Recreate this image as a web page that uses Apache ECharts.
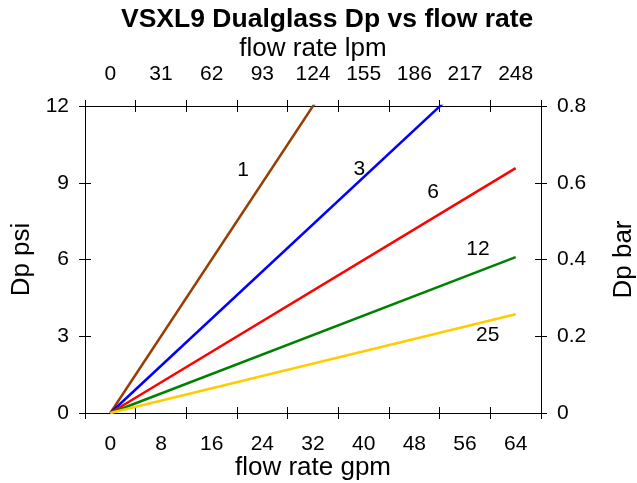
<!DOCTYPE html>
<html>
<head>
<meta charset="utf-8">
<script src="https://cdn.jsdelivr.net/npm/echarts@6/dist/echarts.min.js"></script>
<style>html,body{margin:0;padding:0;background:#fff;}#c{width:637px;height:483px;}</style>
</head>
<body>
<div id="c"></div>
<script>
const flowGpm = [0, 64];
const dp1 = [0, 24.0];
const dp3 = [0, 14.75];
const dp6 = [0, 9.57];
const dp12 = [0, 6.09];
const dp25 = [0, 3.86];
const seriesNames = ['1', '3', '6', '12', '25'];
const seriesColors = ['#993d00', '#0000ff', '#ff0000', '#008000', '#ffcc00'];
const labelX = [20.95, 39.3, 50.96, 58.06, 59.6];
const labelY = [9.5, 9.54, 8.64, 6.41, 3.05];
const gpmTickValues = [-4, 4, 12, 20, 28, 36, 44, 52, 60, 68];
const gpmLabelValues = [0, 8, 16, 24, 32, 40, 48, 56, 64];
const lpmTickValues = [-15.5, 15.5, 46.5, 77.5, 108.5, 139.5, 170.5, 201.5, 232.5, 263.5];
const lpmLabelValues = [0, 31, 62, 93, 124, 155, 186, 217, 248];
const psiTicks = [0, 3, 6, 9, 12];
const barTicks = [0, 0.2, 0.4, 0.6, 0.8];

const FONT = 'Liberation Sans, Arial, sans-serif';
const allDp = [dp1, dp3, dp6, dp12, dp25];

const lineSeries = allDp.map((arr, i) => ({
  type: 'line',
  name: seriesNames[i],
  xAxisIndex: 0,
  yAxisIndex: 0,
  data: flowGpm.map((x, k) => [x, arr[k]]),
  showSymbol: false,
  symbol: 'none',
  clip: true,
  lineStyle: { color: seriesColors[i], width: 2.5 },
  itemStyle: { color: seriesColors[i] },
  animation: false
}));

const labelSeries = {
  type: 'scatter',
  xAxisIndex: 0,
  yAxisIndex: 0,
  symbolSize: 0,
  itemStyle: { color: '#000', opacity: 1 },
  data: seriesNames.map((n, i) => [labelX[i], labelY[i], n]),
  label: {
    show: true,
    position: 'inside',
    formatter: p => p.value[2],
    color: '#000',
    opacity: 1,
    textBorderWidth: 0,
    fontSize: 21,
    fontFamily: FONT
  },
  animation: false,
  silent: true
};

function xAx(pos, min, max, ticks, labels, inside, main, name, nameGap) {
  return {
    type: 'value', position: pos, min: min, max: max,
    name: main ? name : '', nameLocation: 'middle', nameGap: nameGap, nameMoveOverlap: false,
    nameTextStyle: { fontSize: 26, fontFamily: FONT, color: '#000' },
    axisLine: { show: main, onZero: false, lineStyle: { color: '#000', width: 1 } },
    axisTick: { show: true, inside: inside, length: 6, customValues: ticks, lineStyle: { color: '#000', width: 1 } },
    axisLabel: { show: main, customValues: labels, fontSize: 21, fontFamily: FONT, color: '#000', margin: 21 },
    splitLine: { show: false }
  };
}
function yAx(pos, min, max, interval, inside, main, name, nameGap) {
  return {
    type: 'value', position: pos, min: min, max: max, interval: interval,
    name: main ? name : '', nameLocation: 'middle', nameGap: nameGap, nameMoveOverlap: false,
    nameTextStyle: { fontSize: 26, fontFamily: FONT, color: '#000' },
    axisLine: { show: main, onZero: false, lineStyle: { color: '#000', width: 1 } },
    axisTick: { show: true, inside: inside, length: 6, lineStyle: { color: '#000', width: 1 } },
    axisLabel: { show: main, fontSize: 21, fontFamily: FONT, color: '#000', margin: 16 },
    splitLine: { show: false }
  };
}

const option = {
  animation: false,
  backgroundColor: '#fff',
  title: {
    text: 'VSXL9 Dualglass Dp vs flow rate',
    left: 116, top: 1,
    textStyle: { fontSize: 26.5, fontWeight: 'bold', fontFamily: FONT, color: '#000' }
  },
  grid: { left: 85, right: 96, top: 106, bottom: 70, containLabel: false, outerBoundsMode: 'none' },
  xAxis: [
    xAx('bottom', -4, 68, gpmTickValues, gpmLabelValues, false, true, 'flow rate gpm', 42),
    xAx('top', -15.5, 263.5, lpmTickValues, lpmLabelValues, false, true, 'flow rate lpm', 44),
    xAx('bottom', -4, 68, gpmTickValues, gpmLabelValues, true, false, '', 0),
    xAx('top', -15.5, 263.5, lpmTickValues, lpmLabelValues, true, false, '', 0)
  ],
  yAxis: [
    yAx('left', 0, 12, 3, false, true, 'Dp psi', 50),
    yAx('right', 0, 0.8, 0.2, false, true, 'Dp bar', 70),
    yAx('left', 0, 12, 3, true, false, '', 0),
    yAx('right', 0, 0.8, 0.2, true, false, '', 0)
  ],
  series: lineSeries.concat([labelSeries])
};

const chart = echarts.init(document.getElementById('c'), null, { renderer: 'canvas' });
chart.setOption(option);
</script>
</body>
</html>
